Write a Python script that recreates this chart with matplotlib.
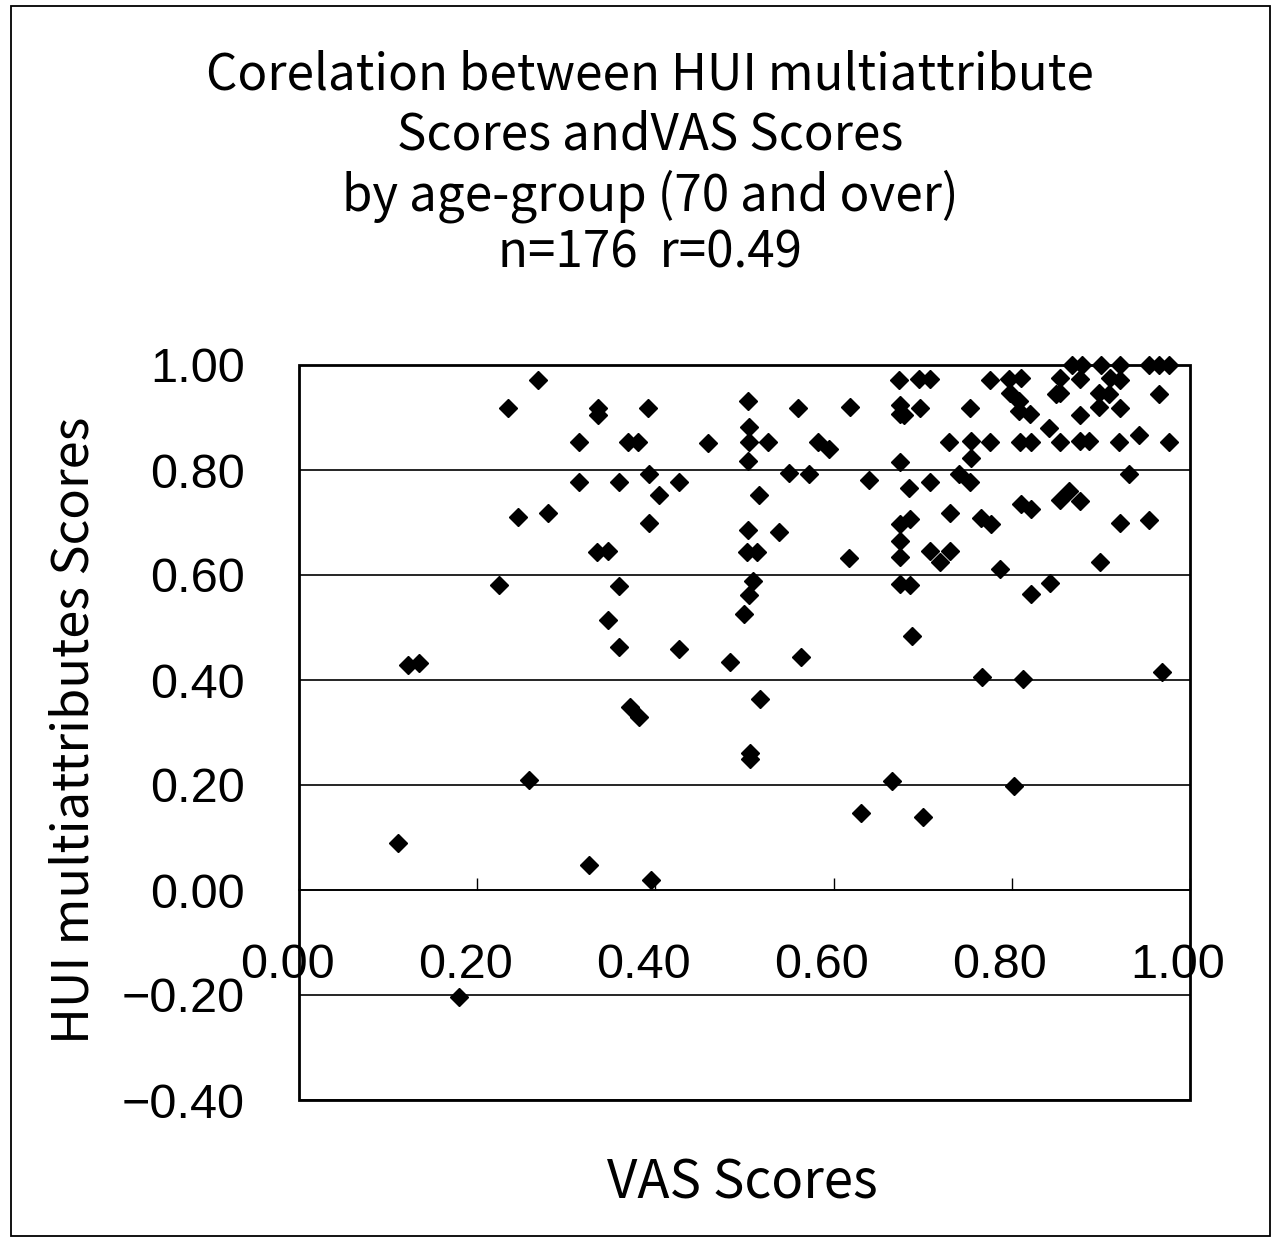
import matplotlib
matplotlib.use('Agg')
import matplotlib.pyplot as plt
from matplotlib.patches import Rectangle
import matplotlib.transforms as mtrans

# ---- data ----
vas = [0.268, 0.235, 0.336, 0.336, 0.392, 0.314, 0.369, 0.381, 0.459, 0.314,
       0.359, 0.393, 0.426, 0.404, 0.246, 0.280, 0.393, 0.335, 0.347, 0.224,
       0.359, 0.347, 0.359, 0.426, 0.484, 0.122, 0.135, 0.517, 0.371, 0.382,
       0.506, 0.506, 0.258, 0.111, 0.326, 0.395, 0.180, 0.563, 0.688, 0.767,
       0.813, 0.969, 0.666, 0.803, 0.631, 0.700,
       0.868, 0.879, 0.900, 0.921, 0.954, 0.965, 0.976,
       0.673, 0.696, 0.708, 0.776, 0.797, 0.810, 0.854, 0.877, 0.910, 0.921,
       0.504, 0.560, 0.618, 0.674, 0.674, 0.679, 0.697, 0.753, 0.798, 0.808,
       0.808, 0.820, 0.850, 0.854, 0.876, 0.898, 0.909, 0.898, 0.921, 0.965,
       0.505, 0.505, 0.526, 0.583, 0.595, 0.504, 0.730, 0.754, 0.754, 0.776,
       0.809, 0.821, 0.842, 0.854, 0.876, 0.887, 0.920, 0.943, 0.976, 0.674,
       0.550, 0.572, 0.640, 0.685, 0.708, 0.741, 0.753, 0.932, 0.516, 0.731,
       0.765, 0.777, 0.810, 0.821, 0.854, 0.864, 0.877, 0.921, 0.954, 0.674,
       0.686, 0.504, 0.539, 0.675, 0.674, 0.503, 0.514, 0.617, 0.708, 0.719,
       0.731, 0.899, 0.787, 0.509, 0.674, 0.686, 0.505, 0.843, 0.821, 0.499]
hui = [0.972, 0.918, 0.919, 0.904, 0.918, 0.853, 0.853, 0.853, 0.852, 0.777,
       0.777, 0.792, 0.777, 0.753, 0.711, 0.719, 0.699, 0.644, 0.645, 0.581,
       0.580, 0.515, 0.462, 0.459, 0.435, 0.429, 0.432, 0.364, 0.348, 0.330,
       0.261, 0.250, 0.209, 0.089, 0.048, 0.019, -0.203, 0.443, 0.484, 0.406,
       0.401, 0.416, 0.207, 0.199, 0.147, 0.139,
       1.000, 1.000, 1.000, 1.000, 1.000, 1.000, 1.000,
       0.972, 0.973, 0.973, 0.972, 0.974, 0.975, 0.975, 0.974, 0.976, 0.971,
       0.931, 0.919, 0.920, 0.923, 0.907, 0.904, 0.918, 0.919, 0.947, 0.932,
       0.913, 0.906, 0.945, 0.947, 0.905, 0.946, 0.944, 0.920, 0.919, 0.944,
       0.882, 0.853, 0.854, 0.854, 0.840, 0.817, 0.854, 0.855, 0.823, 0.853,
       0.854, 0.854, 0.880, 0.854, 0.855, 0.855, 0.854, 0.866, 0.854, 0.816,
       0.794, 0.793, 0.781, 0.765, 0.778, 0.793, 0.777, 0.792, 0.753, 0.719,
       0.709, 0.698, 0.735, 0.726, 0.742, 0.760, 0.741, 0.699, 0.705, 0.698,
       0.706, 0.685, 0.682, 0.665, 0.634, 0.644, 0.644, 0.632, 0.645, 0.624,
       0.645, 0.624, 0.611, 0.589, 0.582, 0.581, 0.562, 0.585, 0.564, 0.525]

x_ticks = [0.0, 0.2, 0.4, 0.6, 0.8, 1.0]
x_tick_labels = ['0.00', '0.20', '0.40', '0.60', '0.80', '1.00']
y_ticks = [-0.4, -0.2, 0.0, 0.2, 0.4, 0.6, 0.8, 1.0]
y_tick_labels = ['\u22120.40', '\u22120.20', '0.00', '0.20', '0.40', '0.60', '0.80', '1.00']

title_lines = ['Corelation between HUI multiattribute',
               'Scores andVAS Scores',
               'by age-group (70 and over)',
               'n=176  r=0.49']
x_label = 'VAS Scores'
y_label = 'HUI multiattributes Scores'

W, H = 1282, 1242
fig = plt.figure(figsize=(W / 100, H / 100), dpi=100)
fig.patch.set_facecolor('white')

# outer frame
fig.patches.append(Rectangle((11 / W, 1 - 1236 / H), (1270 - 11) / W, (1236 - 6) / H,
                             transform=fig.transFigure, fill=False,
                             edgecolor='black', lw=1.3))

ax = fig.add_axes([299 / W, 1 - 1100 / H, 891 / W, 735 / H])
ax.set_xlim(0, 1)
ax.set_ylim(-0.4, 1.0)

for s in ['top', 'left', 'right']:
    ax.spines[s].set_visible(False)
ax.spines['bottom'].set_position(('data', 0))
ax.spines['bottom'].set_linewidth(1.2)
ax.add_patch(Rectangle((0, 0), 1, 1, transform=ax.transAxes, fill=False,
                       edgecolor='black', lw=2.0, clip_on=False, zorder=3))

ax.set_yticks(y_ticks)
ax.set_yticklabels(y_tick_labels, fontfamily='Liberation Sans', fontsize=35)
ax.yaxis.grid(True, color='black', lw=1.2)
ax.set_axisbelow(True)
ax.tick_params(axis='y', length=0, pad=39)

ax.set_xticks(x_ticks)
ax.set_xticklabels(x_tick_labels, fontfamily='Liberation Sans', fontsize=35)
ax.tick_params(axis='x', direction='in', length=9, width=1.0, pad=38)
off = mtrans.ScaledTranslation(-12 / 100, 0, fig.dpi_scale_trans)
for lab in ax.get_xticklabels():
    lab.set_transform(lab.get_transform() + off)

ax.plot(vas, hui, linestyle='none', marker='D', color='black', ms=9, zorder=4,
        clip_on=False)

tfont = ['Noto Sans CJK JP', 'DejaVu Sans']
for txt, yc in zip(title_lines, [75, 136, 196, 254]):
    fig.text(650 / W, 1 - yc / H, txt, ha='center', va='center', fontsize=35.5,
             family=tfont)

fig.text(742 / W, 1 - 1183 / H, x_label, ha='center', va='center', fontsize=38,
         family=tfont)
fig.text(75 / W, 1 - 730 / H, y_label, ha='center', va='center', fontsize=36.5,
         rotation=90, family=tfont)

fig.savefig('out.png', dpi=100, facecolor='white')
